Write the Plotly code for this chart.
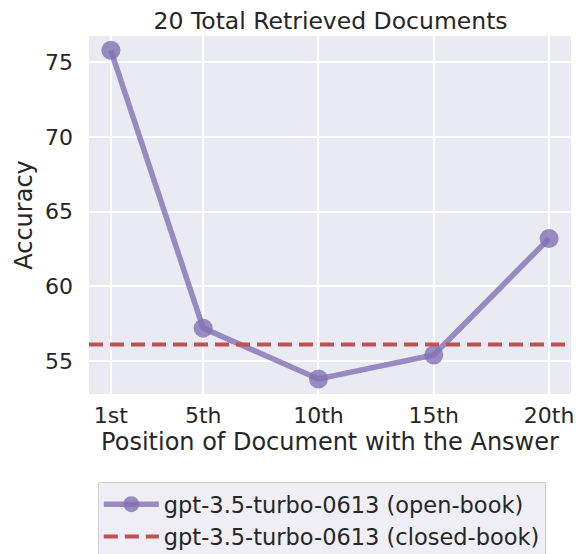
import plotly.graph_objects as go

positions = [1, 5, 10, 15, 20]
tick_labels = ["1st", "5th", "10th", "15th", "20th"]
open_book = [75.8, 57.2, 53.8, 55.4, 63.2]
closed_book = 56.1

FONT = "DejaVu Sans"
fig = go.Figure()
fig.add_trace(go.Scatter(
    x=positions, y=open_book, mode="lines+markers",
    name="gpt-3.5-turbo-0613 (open-book)",
    line=dict(color="rgba(129,114,179,0.8)", width=5.5),
    marker=dict(color="rgba(129,114,179,0.8)", size=19),
))
fig.add_trace(go.Scatter(
    x=[0.05, 20.95], y=[closed_book, closed_book], mode="lines",
    name="gpt-3.5-turbo-0613 (closed-book)",
    line=dict(color="#C44E52", width=4, dash="14px,7px"),
))
fig.update_layout(
    width=574, height=546,
    margin=dict(l=81, r=11, t=28, b=160, autoexpand=False),
    paper_bgcolor="white", plot_bgcolor="#EAEAF2",
    font=dict(family=FONT, size=22, color="#262626"),
    title=dict(text="20 Total Retrieved Documents", x=0.562, xanchor="center",
               y=0.977, yanchor="middle", font=dict(size=23.5)),
    xaxis=dict(tickvals=positions, ticktext=tick_labels, range=[0.05, 20.95],
               showgrid=True, gridcolor="white", gridwidth=1.5, zeroline=False,
               ticks="", ticklen=0, ticklabelstandoff=6, automargin=False,
               title=dict(text="Position of Document with the Answer", standoff=2,
                          font=dict(size=24))),
    yaxis=dict(tickvals=[55, 60, 65, 70, 75], range=[52.79, 76.76],
               showgrid=True, gridcolor="white", gridwidth=1.5, zeroline=False,
               ticks="", ticklabelstandoff=15, automargin=False,
               title=dict(text="Accuracy", standoff=5, font=dict(size=24))),
    legend=dict(x=0.483, xanchor="center", y=-0.246, yanchor="top",
                bgcolor="#EEEEF4", bordercolor="#D0D0D0", borderwidth=1,
                font=dict(size=22.5), itemwidth=55, tracegroupgap=0),
    showlegend=True,
)
fig.write_html("out.html")
